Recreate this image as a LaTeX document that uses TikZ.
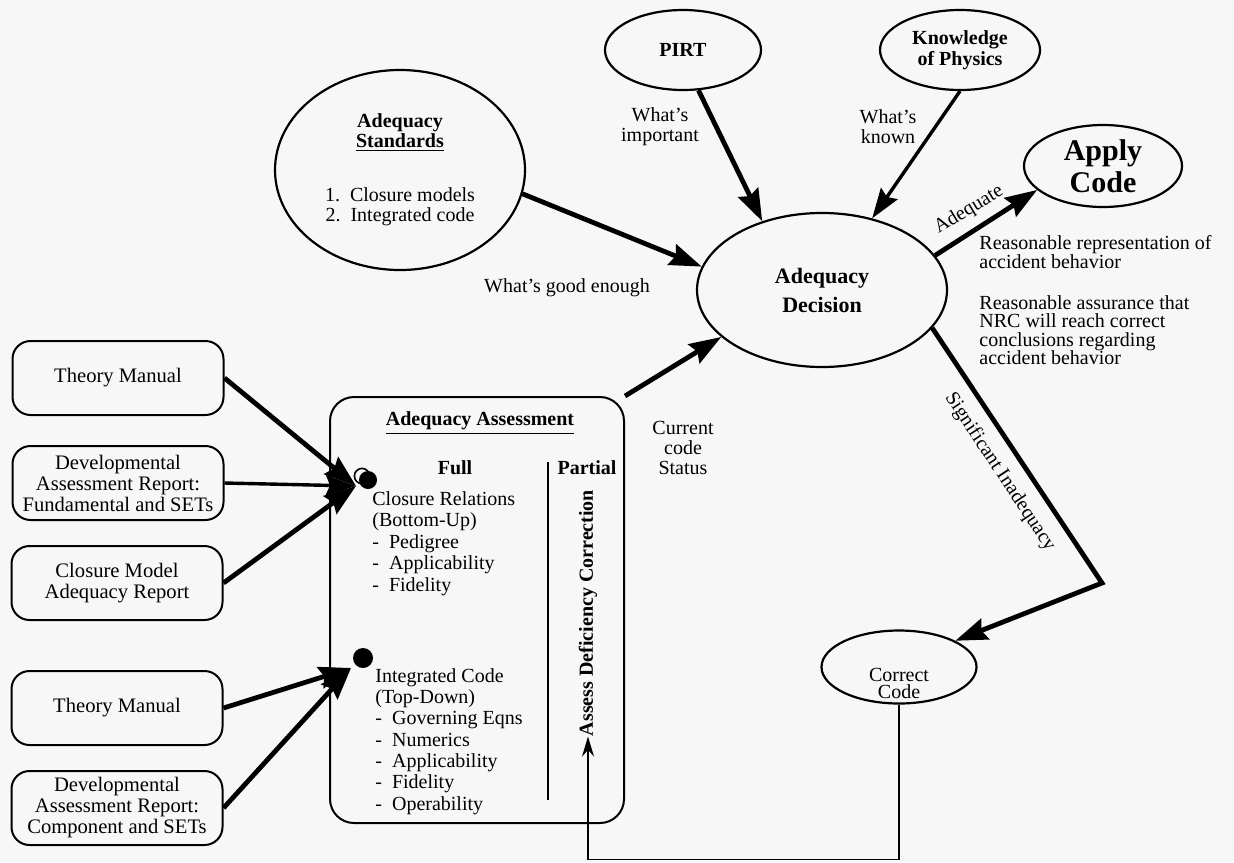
\documentclass[tikz,border=0pt]{standalone}
\usepackage{fontspec}
\setmainfont{Liberation Serif}
\usetikzlibrary{positioning, arrows.meta, shapes.geometric}

\begin{document}
\begin{tikzpicture}[>=Stealth, x=0.5pt, y=-0.5pt,
  oval/.style={draw, ellipse, line width=1.1pt, inner sep=0pt, align=center},
  srcbox/.style={draw, rounded corners=9pt, line width=1pt, minimum width=105.5pt,
    minimum height=37pt, inner sep=0pt, align=center,
    font=\fontsize{10.3}{10.5}\selectfont},
  txt/.style={inner sep=0pt, align=center, font=\fontsize{10}{10}\selectfont},
  bigarrow/.style={-{Stealth[length=16pt, width=11pt, inset=2pt]}, line width=2.4pt},
  midarrow/.style={-{Stealth[length=15pt, width=10pt, inset=2pt]}, line width=1.7pt},
  dot/.style={circle, fill, inner sep=0pt, minimum size=9pt}]

% --- Page ---
\fill[black!3] (0,0) rectangle (1234,862);

% --- Top ovals ---
\node[oval, minimum width=125pt, minimum height=100pt,
  font=\fontsize{10}{10}\selectfont] (std) at (400,170)
  {\textbf{Adequacy}\\\textbf{\underline{Standards}}\\[17pt]
   1.\ \ Closure models\\2.\ \ Integrated code};
\node[oval, minimum width=78pt, minimum height=40pt,
  font=\bfseries\fontsize{10}{10}\selectfont] (pirt) at (683,50) {PIRT};
\node[oval, minimum width=80pt, minimum height=40pt,
  font=\bfseries\fontsize{10}{8}\selectfont] (know) at (960,50)
  {Knowledge\\of Physics};
\node[oval, minimum width=79pt, minimum height=41pt,
  font=\bfseries\fontsize{15}{16}\selectfont] (apply) at (1103,166)
  {Apply\\Code};
\node[oval, minimum width=125pt, minimum height=77pt,
  font=\bfseries\fontsize{11}{14.5}\selectfont] (dec) at (822,290)
  {Adequacy\\Decision};
\node[oval, minimum width=77.5pt, minimum height=36.5pt] (corr) at (899,667) {};
\node[txt, font=\fontsize{10}{8.5}\selectfont] (corrtxt) at (899,683)
  {Correct\\Code};

% --- Input documents ---
\node[srcbox] (tm1) at (118,378) {Theory Manual};
\node[srcbox] (dar1) at (118,483)
  {Developmental\\Assessment Report:\\Fundamental and SETs};
\node[srcbox] (cmr) at (117,583) {Closure Model\\Adequacy Report};
\node[srcbox] (tm2) at (117,708) {Theory Manual};
\node[srcbox] (dar2) at (117,808)
  {Developmental\\Assessment Report:\\Component and SETs};

% --- Assessment box ---
\node[draw, rounded corners=12pt, line width=1pt, minimum width=147pt,
  minimum height=213pt] (asm) at (477,610) {};
\node[txt, font=\bfseries\fontsize{10}{10}\selectfont] (asmtitle) at (480,423)
  {\underline{Adequacy Assessment}};
\node[txt, font=\bfseries\fontsize{10}{10}\selectfont] (full) at (455,468) {Full};
\node[txt, font=\bfseries\fontsize{10}{10}\selectfont] (part) at (587,468) {Partial};
\draw[line width=1pt] (548,462) -- (548,800);

\node[txt, align=left, anchor=north west, font=\fontsize{10}{10.75}\selectfont]
  (clo) at (372,491)
  {Closure Relations\\(Bottom-Up)\\-\hspace{5pt}Pedigree\\
   -\hspace{5pt}Applicability\\-\hspace{5pt}Fidelity};
\node[txt, align=left, anchor=north west, font=\fontsize{10}{10.65}\selectfont]
  (intc) at (375,668)
  {Integrated Code\\(Top-Down)\\-\hspace{5pt}Governing Eqns\\
   -\hspace{5pt}Numerics\\-\hspace{5pt}Applicability\\-\hspace{5pt}Fidelity\\
   -\hspace{5pt}Operability};

\draw[line width=0.8pt] (362,476) circle (3.8pt);
\node[dot] (cr) at (368,480) {};
\node[dot, minimum size=10pt] (ic) at (363,658) {};
\coordinate (crin) at (356,486);
\coordinate (icin) at (351,668);

\node[txt, rotate=90, font=\bfseries\fontsize{10}{10}\selectfont] (adc) at (588,613)
  {Assess Deficiency Correction};

% --- Inputs into the assessment ---
\draw[bigarrow] (tm1.east) -- (crin);
\draw[midarrow] (dar1.east) -- (crin);
\draw[bigarrow] (cmr.east) -- (crin);
\draw[bigarrow] (tm2.east) -- (icin);
\draw[bigarrow] (dar2.east) -- (icin);

% --- Into the decision ---
\draw[bigarrow] (std.-11) -- (dec.169);
\draw[bigarrow] (pirt.-69) -- (dec.131);
\draw[midarrow] (know.south) -- (dec.55);
\draw[bigarrow] (asm.north east) -- (dec.205);

% --- Out of the decision ---
\draw[bigarrow] (dec.17) -- (apply.200);
\coordinate (bend) at (1102,583);
\draw[bigarrow] (dec.-19) -- (bend) -- (corr.25);
\draw[-{Stealth[length=10pt, width=6pt]}, line width=0.8pt]
  (corr.south) -- ++(0,155) -| (adc.west);

% --- Labels ---
\node[txt] (imp) at (660,127) {What's\\important};
\node[txt] (kno) at (888,127) {What's\\known};
\node[txt] (good) at (567,288) {What's good enough};
\node[txt] (cur) at (683,448) {Current\\code\\Status};
\node[txt, rotate=31] (adeq) at (969,210) {Adequate};
\node[txt, rotate=-56.5] (sig) at (1000,472) {Significant Inadequacy};
\node[txt, align=left, anchor=west, font=\fontsize{10}{9.5}\selectfont] (rep)
  at (979,252) {Reasonable representation of\\accident behavior};
\node[txt, align=left, anchor=west, font=\fontsize{10}{9.25}\selectfont] (asr)
  at (979,330)
  {Reasonable assurance that\\NRC will reach correct\\conclusions regarding\\accident behavior};

\end{tikzpicture}
\end{document}
